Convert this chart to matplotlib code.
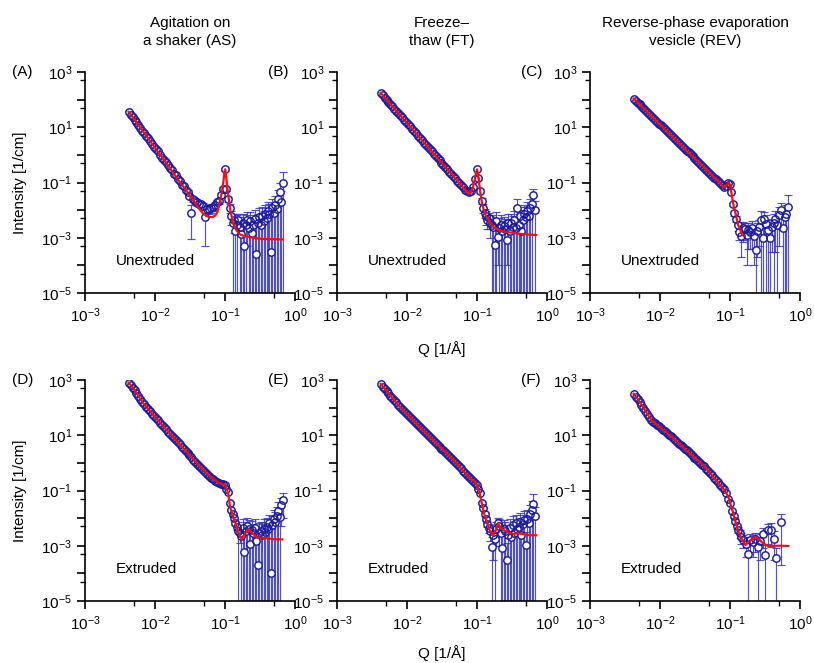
import matplotlib
matplotlib.use("Agg")
import matplotlib.pyplot as plt
from matplotlib.ticker import FixedLocator, FuncFormatter, NullFormatter
import numpy as np

plt.rcParams['font.family'] = ['Liberation Sans', 'DejaVu Sans']
plt.rcParams['mathtext.fontset'] = 'custom'
plt.rcParams['mathtext.rm'] = 'Liberation Sans'
plt.rcParams['mathtext.it'] = 'Liberation Sans:italic'
plt.rcParams['mathtext.default'] = 'regular'

# ---------------- data ----------------
COL_TITLES = ["Agitation on\na shaker (AS)", "Freeze\u2013\nthaw (FT)",
              "Reverse-phase evaporation\nvesicle (REV)"]
PANEL_TAGS = ["(A)", "(B)", "(C)", "(D)", "(E)", "(F)"]
ROW_NOTES = ["Unextruded", "Extruded"]

Q_LOW = [0.0042, 0.0045, 0.0048, 0.0051, 0.0054, 0.0058, 0.0062, 0.0066, 0.0070, 0.0075,
         0.0080, 0.0085, 0.0091, 0.0097, 0.0103, 0.0110, 0.0118, 0.0126, 0.0134, 0.0143,
         0.0153, 0.0163, 0.0174, 0.0186, 0.0198, 0.0211, 0.0225, 0.0240, 0.0256, 0.0273,
         0.0292, 0.0311, 0.0332, 0.0354, 0.0378, 0.0403, 0.0430, 0.0459, 0.0490, 0.0523,
         0.0558, 0.0595, 0.0635, 0.0677, 0.0722, 0.0770, 0.0822, 0.0877, 0.0935, 0.0998]
Q_HIGH = [0.105, 0.110, 0.116, 0.122, 0.128, 0.134, 0.141, 0.148, 0.155, 0.163,
          0.171, 0.180, 0.189, 0.198, 0.208, 0.218, 0.229, 0.241, 0.253, 0.265,
          0.279, 0.293, 0.307, 0.323, 0.339, 0.356, 0.374, 0.392, 0.412, 0.432,
          0.454, 0.477, 0.500, 0.526, 0.552, 0.580, 0.609, 0.640, 0.672]
Q_HIGH_C = [0.104, 0.110, 0.115, 0.121, 0.128, 0.136, 0.145, 0.154, 0.163, 0.173,
            0.183, 0.194, 0.206, 0.219, 0.232, 0.246, 0.261, 0.276, 0.293, 0.311,
            0.330, 0.350, 0.372, 0.395, 0.420, 0.446, 0.473, 0.502, 0.533, 0.566,
            0.601, 0.638, 0.677]
Q_HIGH_F = [0.108, 0.113, 0.118, 0.124, 0.130, 0.137, 0.145, 0.155, 0.167, 0.181,
            0.196, 0.212, 0.229, 0.250, 0.272, 0.296, 0.313, 0.350, 0.385, 0.420,
            0.460, 0.540]

# (A) AS unextruded
A_I_LOW = [36.2, 28.5, 22.8, 18.4, 15.2, 12.5, 9.5, 7.2, 6.2, 4.9,
           4.1, 3.2, 2.4, 2.0, 1.64, 1.38, 1.02, 0.8, 0.66, 0.53,
           0.44, 0.33, 0.28, 0.2, 0.18, 0.13, 0.115, 0.082, 0.072, 0.052,
           0.047, 0.033, 0.008, 0.025, 0.021, 0.019, 0.017, 0.016, 0.014, 0.0055,
           0.011, 0.011, 0.012, 0.013, 0.015, 0.02, 0.022, 0.035, 0.06, 0.30]
A_E_LOW = [1.8, 1.4, 1.1, 0.9, 0.75, 0.6, 0.47, 0.38, 0.31, 0.25,
           0.2, 0.16, 0.13, 0.1, 0.085, 0.07, 0.055, 0.045, 0.037, 0.03,
           0.026, 0.021, 0.018, 0.015, 0.013, 0.011, 0.01, 0.009, 0.008, 0.007,
           0.006, 0.006, 0.0071, 0.005, 0.005, 0.0045, 0.0045, 0.004, 0.004, 0.005,
           0.004, 0.004, 0.004, 0.004, 0.004, 0.004, 0.005, 0.006, 0.008, 0.03]
A_I_HIGH = [0.06, 0.025, 0.012, 0.006, 0.0035, 0.0045, 0.0018, 0.003, 0.0045, 0.0025,
            0.0014, 0.0035, 0.0005, 0.003, 0.0045, 0.0022, 0.004, 0.0015, 0.003, 0.0048,
            0.00025, 0.0035, 0.0055, 0.003, 0.006, 0.0042, 0.0075, 0.005, 0.009, 0.007,
            0.0003, 0.012, 0.008, 0.015, 0.011, 0.025, 0.045, 0.02, 0.1]
A_E_HIGH = [0.01, 0.006, 0.004, 0.003, 0.004, 0.003, 0.0025, 0.0035, 0.003, 0.003,
            0.0025, 0.004, 0.003, 0.0035, 0.004, 0.003, 0.0045, 0.003, 0.0035, 0.005,
            0.004, 0.004, 0.006, 0.0045, 0.007, 0.005, 0.008, 0.0065, 0.01, 0.009,
            0.006, 0.013, 0.01, 0.017, 0.014, 0.03, 0.05, 0.03, 0.15]
A_FIT_Q = [0.0042, 0.0055, 0.007, 0.009, 0.0115, 0.015, 0.019, 0.024, 0.03, 0.036,
           0.042, 0.048, 0.054, 0.06, 0.066, 0.072, 0.078, 0.085, 0.09, 0.095,
           0.0985, 0.1005, 0.103, 0.107, 0.112, 0.12, 0.13, 0.145, 0.165, 0.2,
           0.25, 0.35, 0.5, 0.66]
A_FIT_I = [36, 14.5, 6.3, 2.6, 1.12, 0.45, 0.19, 0.085, 0.04, 0.021,
           0.012, 0.0078, 0.0062, 0.0056, 0.0056, 0.0063, 0.0085, 0.022, 0.045, 0.11,
           0.25, 0.3, 0.2, 0.08, 0.03, 0.009, 0.0035, 0.0019, 0.0013, 0.0011,
           0.001, 0.0009, 0.00088, 0.00087]

# (B) FT unextruded
B_I_LOW = [175, 143, 119, 99, 84, 68.6, 56.5, 46.9, 39.7, 32.5,
           26.9, 22.6, 18.5, 15.4, 12.9, 10.7, 8.7, 7.2, 6.0, 5.0,
           4.1, 3.4, 2.8, 2.3, 1.94, 1.62, 1.34, 1.11, 0.92, 0.77,
           0.63, 0.52, 0.435, 0.36, 0.30, 0.25, 0.21, 0.17, 0.14, 0.116,
           0.096, 0.08, 0.066, 0.055, 0.048, 0.045, 0.05, 0.07, 0.13, 0.30]
B_I_HIGH = [0.14, 0.05, 0.022, 0.012, 0.008, 0.006, 0.0045, 0.005, 0.0035, 0.003,
            0.0025, 0.00055, 0.004, 0.0011, 0.0022, 0.003, 0.0017, 0.0026, 0.002, 0.0008,
            0.0035, 0.0018, 0.0033, 0.0025, 0.0045, 0.0022, 0.012, 0.003, 0.006, 0.0018,
            0.0045, 0.0075, 0.0055, 0.009, 0.006, 0.012, 0.017, 0.035, 0.01]
B_E_HIGH = [0.02, 0.01, 0.005, 0.004, 0.003, 0.003, 0.0025, 0.003, 0.0025, 0.0035,
            0.003, 0.003, 0.0045, 0.001, 0.003, 0.0035, 0.0025, 0.003, 0.0028, 0.0007,
            0.004, 0.0028, 0.004, 0.0035, 0.005, 0.0035, 0.013, 0.004, 0.007, 0.003,
            0.0055, 0.008, 0.007, 0.01, 0.008, 0.013, 0.018, 0.025, 0.012]
B_FIT_Q = [0.0042, 0.006, 0.009, 0.013, 0.02, 0.03, 0.045, 0.06, 0.07, 0.076,
           0.082, 0.088, 0.093, 0.097, 0.1, 0.103, 0.107, 0.112, 0.118, 0.125,
           0.135, 0.15, 0.17, 0.2, 0.27, 0.4, 0.55, 0.7]
B_FIT_I = [175, 62, 19.2, 6.6, 1.89, 0.58, 0.18, 0.078, 0.05, 0.039,
           0.045, 0.07, 0.13, 0.22, 0.3, 0.22, 0.1, 0.04, 0.018, 0.01,
           0.006, 0.0038, 0.0025, 0.0019, 0.0016, 0.0014, 0.0013, 0.00125]

# (C) REV unextruded
C_I_LOW = [108.6, 91.5, 78, 66.8, 58.3, 48.9, 41.4, 35.3, 30.6, 25.8,
           22, 18.9, 16, 13.6, 11.7, 10, 8.4, 7.1, 6.1, 5.2,
           4.4, 3.8, 3.2, 2.7, 2.3, 1.99, 1.69, 1.44, 1.23, 1.05,
           0.89, 0.76, 0.64, 0.55, 0.47, 0.40, 0.34, 0.29, 0.245, 0.21,
           0.177, 0.15, 0.129, 0.11, 0.093, 0.08, 0.068, 0.075, 0.095, 0.09]
C_I_HIGH = [0.045, 0.016, 0.0076, 0.0048, 0.0028, 0.0016, 0.0012, 0.0022, 0.0021, 0.0013,
            0.0019, 0.0016, 0.0022, 0.0012, 0.00035, 0.0018, 0.0025, 0.0044, 0.001, 0.0049,
            0.0032, 0.0019, 0.001, 0.0025, 0.0035, 0.0048, 0.0028, 0.0065, 0.01, 0.0023,
            0.0055, 0.0075, 0.0125]
C_E_HIGH = [0.004, 0.002, 0.0015, 0.0012, 0.001, 0.0008, 0.001, 0.0015, 0.0013, 0.0012,
            0.0015, 0.0012, 0.0018, 0.0011, 0.001, 0.0016, 0.002, 0.005, 0.0015, 0.0035,
            0.0035, 0.0025, 0.0015, 0.0022, 0.004, 0.0045, 0.003, 0.006, 0.008, 0.003,
            0.006, 0.008, 0.022]
C_FIT_Q = [0.0042, 0.006, 0.009, 0.013, 0.02, 0.03, 0.045, 0.06, 0.075, 0.083,
           0.09, 0.097, 0.102, 0.107, 0.113, 0.12, 0.13, 0.15, 0.156]
C_FIT_I = [108.6, 44.9, 16.4, 6.6, 2.27, 0.83, 0.30, 0.149, 0.085, 0.066,
           0.08, 0.1, 0.065, 0.03, 0.014, 0.0076, 0.003, 0.0013, 0.0012]

# (D) AS extruded
D_I_LOW = [803, 650, 533, 427, 347, 264, 204, 160, 132, 107,
           88.7, 74.3, 60.5, 50, 42.4, 35.2, 28.8, 23.9, 20, 16.7,
           13.6, 11.5, 9.6, 7.9, 6.7, 5.6, 4.7, 3.9, 3.27, 2.73,
           2.27, 1.89, 1.58, 1.32, 1.10, 0.92, 0.77, 0.645, 0.55, 0.47,
           0.40, 0.34, 0.295, 0.26, 0.23, 0.204, 0.19, 0.178, 0.166, 0.158]
D_I_HIGH = [0.117, 0.089, 0.036, 0.02, 0.0138, 0.0098, 0.0066, 0.0046, 0.0035, 0.0028,
            0.0022, 0.0045, 0.0006, 0.0035, 0.005, 0.0042, 0.0012, 0.0038, 0.0028, 0.0045,
            0.0015, 0.0002, 0.003, 0.0035, 0.0025, 0.0042, 0.0032, 0.0048, 0.004, 0.0065,
            0.0001, 0.0055, 0.009, 0.0075, 0.012, 0.018, 0.011, 0.03, 0.045]
D_E_HIGH = [0.006, 0.005, 0.003, 0.002, 0.0015, 0.0012, 0.001, 0.001, 0.0035, 0.0015,
            0.0025, 0.005, 0.003, 0.004, 0.0055, 0.0045, 0.003, 0.004, 0.0035, 0.005,
            0.003, 0.003, 0.0035, 0.004, 0.0035, 0.005, 0.004, 0.0055, 0.005, 0.007,
            0.004, 0.0065, 0.01, 0.009, 0.013, 0.02, 0.013, 0.025, 0.035]
D_FIT_Q = [0.0042, 0.0049, 0.0068, 0.00946, 0.0147, 0.0254, 0.044, 0.061, 0.076, 0.0897,
           0.1, 0.111, 0.118, 0.131, 0.147, 0.16, 0.173, 0.19, 0.215, 0.24,
           0.28, 0.32, 0.4, 0.5, 0.66]
D_FIT_I = [800, 501, 143, 54, 15.4, 3.35, 0.72, 0.32, 0.21, 0.17,
           0.158, 0.079, 0.026, 0.0112, 0.0048, 0.0025, 0.0017, 0.0025, 0.004, 0.003,
           0.0021, 0.0019, 0.0019, 0.0017, 0.0017]

# (E) FT extruded
E_I_LOW = [713, 581, 479, 398, 339, 274, 224, 185, 156, 127,
           105, 90, 75, 63, 54.5, 46, 38.3, 32.4, 27.5, 23.3,
           19.5, 16.6, 13.9, 11.7, 10.1, 8.7, 7.4, 6.3, 5.4, 4.6,
           3.9, 3.3, 2.84, 2.42, 2.05, 1.75, 1.49, 1.26, 1.07, 0.90,
           0.75, 0.63, 0.525, 0.44, 0.367, 0.31, 0.257, 0.219, 0.186, 0.158]
E_I_HIGH = [0.117, 0.083, 0.036, 0.023, 0.0145, 0.0093, 0.0063, 0.0045, 0.0035, 0.0009,
            0.0025, 0.0018, 0.004, 0.0065, 0.005, 0.0028, 0.0008, 0.004, 0.0035, 0.0003,
            0.0025, 0.0045, 0.002, 0.0055, 0.003, 0.0065, 0.004, 0.0048, 0.0075, 0.0025,
            0.006, 0.0085, 0.0011, 0.0095, 0.0065, 0.014, 0.02, 0.032, 0.012]
E_E_HIGH = [0.006, 0.005, 0.003, 0.002, 0.0018, 0.0015, 0.0015, 0.0015, 0.002, 0.0012,
            0.0022, 0.002, 0.003, 0.004, 0.004, 0.003, 0.002, 0.0045, 0.004, 0.001,
            0.003, 0.005, 0.003, 0.006, 0.0035, 0.007, 0.0045, 0.0055, 0.008, 0.004,
            0.007, 0.009, 0.002, 0.01, 0.008, 0.015, 0.02, 0.04, 0.013]
E_FIT_Q = [0.0042, 0.005, 0.0079, 0.0178, 0.037, 0.051, 0.079, 0.092, 0.1, 0.107,
           0.117, 0.125, 0.137, 0.15, 0.17, 0.185, 0.2, 0.215, 0.25, 0.3,
           0.33, 0.4, 0.5, 0.58, 0.7]
E_FIT_I = [720, 430, 107, 13.2, 2.2, 0.95, 0.28, 0.21, 0.16, 0.1,
           0.034, 0.016, 0.0074, 0.0038, 0.0024, 0.0035, 0.0065, 0.0045, 0.0035, 0.0028,
           0.0027, 0.0028, 0.0025, 0.0024, 0.0024]

# (F) REV extruded
F_I_LOW = [316, 245, 200, 158, 129, 98, 76, 59, 46.8, 35.7,
           31.3, 27.6, 23.8, 20.8, 18.3, 16, 13.7, 12, 10.5, 9.2,
           7.9, 6.8, 5.9, 5.0, 4.4, 3.8, 3.27, 2.82, 2.43, 2.1,
           1.8, 1.55, 1.34, 1.16, 1.0, 0.87, 0.75, 0.62, 0.51, 0.42,
           0.35, 0.285, 0.235, 0.195, 0.16, 0.13, 0.11, 0.079, 0.051, 0.034]
F_I_HIGH = [0.018, 0.0115, 0.0078, 0.0052, 0.0037, 0.0028, 0.0021, 0.0016, 0.0012, 0.0005,
            0.0016, 0.0014, 0.0018, 0.0009, 0.0015, 0.0026, 0.00046, 0.0037, 0.0037, 0.0018,
            0.00035, 0.007]
F_E_HIGH = [0.002, 0.0015, 0.0012, 0.001, 0.0009, 0.0009, 0.0009, 0.0008, 0.0008, 0.0006,
            0.001, 0.001, 0.0012, 0.001, 0.0012, 0.0018, 0.0006, 0.0025, 0.0028, 0.0015,
            0.0005, 0.0068]
F_FIT_Q = [0.0042, 0.0049, 0.0075, 0.0145, 0.0436, 0.084, 0.095, 0.104, 0.11, 0.12,
           0.13, 0.145, 0.166, 0.19, 0.226, 0.26, 0.3, 0.35, 0.45, 0.55, 0.68]
F_FIT_I = [316, 190, 35.5, 8.9, 0.72, 0.1, 0.058, 0.026, 0.017, 0.0072,
           0.0037, 0.0019, 0.00105, 0.0015, 0.0021, 0.0017, 0.0012, 0.00098, 0.001, 0.001,
           0.00098]

PANELS = [
    dict(il=A_I_LOW, el=A_E_LOW, qh=Q_HIGH, ih=A_I_HIGH, eh=A_E_HIGH, fq=A_FIT_Q, fi=A_FIT_I),
    dict(il=B_I_LOW, el=None, qh=Q_HIGH, ih=B_I_HIGH, eh=B_E_HIGH, fq=B_FIT_Q, fi=B_FIT_I),
    dict(il=C_I_LOW, el=None, qh=Q_HIGH_C, ih=C_I_HIGH, eh=C_E_HIGH, fq=C_FIT_Q, fi=C_FIT_I),
    dict(il=D_I_LOW, el=None, qh=Q_HIGH, ih=D_I_HIGH, eh=D_E_HIGH, fq=D_FIT_Q, fi=D_FIT_I),
    dict(il=E_I_LOW, el=None, qh=Q_HIGH, ih=E_I_HIGH, eh=E_E_HIGH, fq=E_FIT_Q, fi=E_FIT_I),
    dict(il=F_I_LOW, el=None, qh=Q_HIGH_F, ih=F_I_HIGH, eh=F_E_HIGH, fq=F_FIT_Q, fi=F_FIT_I),
]

# ---------------- style ----------------
FIG_W, FIG_H = 814, 663
MARKER_EDGE = '#1c1ca2'
ERR_COLOR = '#3535c0'
FIT_COLOR = '#ff0a0a'
FS = 11

fig = plt.figure(figsize=(FIG_W / 100, FIG_H / 100), dpi=100)
col_left_px = [85, 337, 590]
tag_left_px = [12, 268, 521]
row_top_px = [72, 380]
ax_w_px, ax_h_px = 210, 221


def draw_err(ax, q, i, e):
    q = np.asarray(q, float)
    i = np.asarray(i, float)
    e = np.asarray(e, float)
    lower = np.where(e >= i, i - 1e-8, e)
    ax.errorbar(q, i, yerr=[lower, e], fmt='none', ecolor=ERR_COLOR, elinewidth=0.85,
                capsize=3.2, capthick=0.85, alpha=0.85, zorder=2)


def ytick_fmt(v, pos):
    ex = int(round(np.log10(v)))
    if ex % 2 == 0:
        return ''
    return r'$10^{%d}$' % ex


def xtick_fmt(v, pos):
    ex = int(round(np.log10(v)))
    return r'$10^{%d}$' % ex


for k, p in enumerate(PANELS):
    r, c = divmod(k, 3)
    left = col_left_px[c] / FIG_W
    bottom = 1 - (row_top_px[r] + ax_h_px) / FIG_H
    ax = fig.add_axes([left, bottom, ax_w_px / FIG_W, ax_h_px / FIG_H])
    ax.set_xscale('log')
    ax.set_yscale('log')

    if p['el'] is not None:
        draw_err(ax, Q_LOW, p['il'], p['el'])
    draw_err(ax, p['qh'], p['ih'], p['eh'])

    q_all = list(Q_LOW) + list(p['qh'])
    i_all = list(p['il']) + list(p['ih'])
    # white faces first, then all open rings on top (dense runs merge into a band)
    ax.plot(q_all, i_all, 'o', ms=5.3, mfc='white', mec='none', zorder=2.5)
    ax.plot(q_all, i_all, 'o', ms=5.3, mfc='none', mec=MARKER_EDGE, mew=1.05,
            zorder=3)
    ax.plot(p['fq'], p['fi'], '-', color=FIT_COLOR, lw=1.6, zorder=4)

    ax.set_xlim(1e-3, 1)
    ax.set_ylim(1e-5, 1e3)
    ax.spines['top'].set_visible(False)
    ax.spines['right'].set_visible(False)
    for s in ('left', 'bottom'):
        ax.spines[s].set_linewidth(1.2)

    ax.xaxis.set_major_locator(FixedLocator([1e-3, 1e-2, 1e-1, 1e0]))
    ax.xaxis.set_minor_locator(FixedLocator([5e-3, 5e-2, 5e-1]))
    ax.yaxis.set_major_locator(FixedLocator([10.0 ** e for e in range(-5, 4)]))
    ax.yaxis.set_minor_locator(FixedLocator([5 * 10.0 ** e for e in range(-5, 3)]))
    ax.xaxis.set_major_formatter(FuncFormatter(xtick_fmt))
    ax.yaxis.set_major_formatter(FuncFormatter(ytick_fmt))
    ax.xaxis.set_minor_formatter(NullFormatter())
    ax.yaxis.set_minor_formatter(NullFormatter())
    ax.tick_params(which='major', direction='out', length=5.8, width=1.2,
                   labelsize=FS, pad=3.5)
    ax.tick_params(which='minor', direction='out', length=3.6, width=1.0)

    ax.text(0.148, 0.145, ROW_NOTES[r], transform=ax.transAxes, ha='left',
            va='center', fontsize=FS)

    fig.text(tag_left_px[c] / FIG_W, 1 - row_top_px[r] / FIG_H, PANEL_TAGS[k],
             ha='left', va='center', fontsize=FS)

# column titles
for c in range(3):
    cx = (col_left_px[c] + ax_w_px / 2) / FIG_W
    fig.text(cx, 1 - 32 / FIG_H, COL_TITLES[c], ha='center', va='center',
             fontsize=FS, linespacing=1.3)

# axis labels
for r in range(2):
    cy = 1 - (row_top_px[r] + ax_h_px / 2) / FIG_H
    fig.text(20 / FIG_W, cy, 'Intensity [1/cm]', rotation=90, ha='center',
             va='center', fontsize=FS)
    qy = [349, 653][r]
    fig.text((col_left_px[1] + ax_w_px / 2) / FIG_W, 1 - qy / FIG_H,
             'Q [1/\u00c5]', ha='center', va='center', fontsize=FS)

fig.savefig('out.png', dpi=100)
